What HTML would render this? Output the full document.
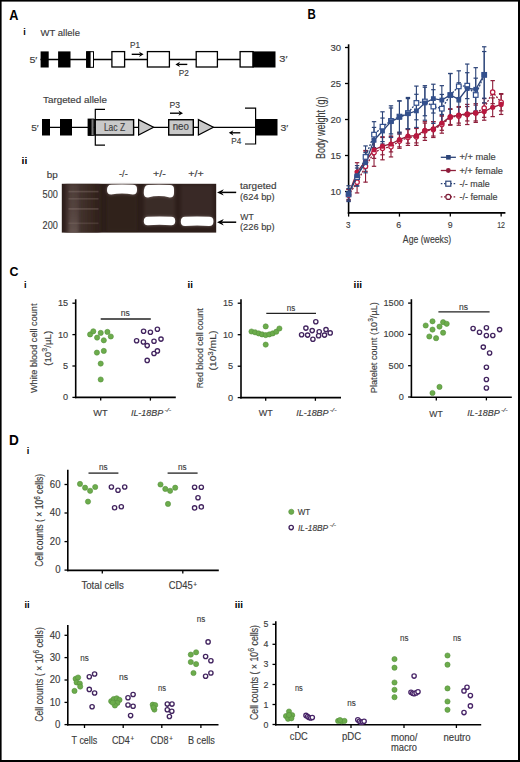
<!DOCTYPE html>
<html><head><meta charset="utf-8"><title>Figure</title>
<style>
html,body{margin:0;padding:0;background:#fff;}
body{width:520px;height:762px;overflow:hidden;}
svg{display:block;font-family:"Liberation Sans", sans-serif;}
text{stroke:#3c3c3c;stroke-width:0.15px;}
text[fill="#000"]{stroke:none;}
</style></head>
<body>
<svg width="520" height="762" viewBox="0 0 520 762" fill="#3c3c3c">
<rect width="520" height="762" fill="#fff"/>
<text x="9.2" y="19.5" font-size="14" font-weight="bold" textLength="9.2" lengthAdjust="spacingAndGlyphs" fill="#000">A</text>
<text x="23.2" y="35.2" font-size="9" font-weight="bold" fill="#000">i</text>
<text x="40.6" y="35.5" font-size="9.5" textLength="39.4" lengthAdjust="spacingAndGlyphs">WT allele</text>
<line x1="40.5" y1="59.5" x2="252" y2="59.5" stroke="#000" stroke-width="1.35"/>
<rect x="40.6" y="51.4" width="8.1" height="16.1" fill="#000"/>
<rect x="58.1" y="51.4" width="12.4" height="16.1" fill="#000"/>
<rect x="86.6" y="51.7" width="6.9" height="15.6" fill="#fff" stroke="#000" stroke-width="1"/>
<rect x="86.3" y="51.4" width="4.3" height="16.1" fill="#000"/>
<rect x="111.9" y="51.6" width="12.7" height="15.4" fill="#fff" stroke="#000" stroke-width="1.3"/>
<rect x="147.4" y="51.6" width="22" height="15.4" fill="#fff" stroke="#000" stroke-width="1.3"/>
<rect x="196.2" y="51.6" width="21.2" height="15.4" fill="#fff" stroke="#000" stroke-width="1.3"/>
<rect x="240.1" y="51.6" width="13" height="15.4" fill="#fff" stroke="#000" stroke-width="1.3"/>
<rect x="252.5" y="51.4" width="23" height="16.1" fill="#000"/>
<text x="29.4" y="62.5" font-size="9.6" textLength="8" lengthAdjust="spacingAndGlyphs">5&#8242;</text>
<text x="279.3" y="62.4" font-size="9.6" textLength="8.2" lengthAdjust="spacingAndGlyphs">3&#8242;</text>
<text x="130" y="48.1" font-size="8.5" textLength="10" lengthAdjust="spacingAndGlyphs">P1</text>
<text x="178.8" y="75.6" font-size="8.5" textLength="10" lengthAdjust="spacingAndGlyphs">P2</text>
<line x1="131.7" y1="54.3" x2="140.4" y2="54.3" stroke="#000" stroke-width="1.35"/>
<path d="M143.6 54.3 L139 51.7 L140.4 54.3 L139 56.9 Z" fill="#000"/>
<line x1="178.6" y1="64.4" x2="187.3" y2="64.4" stroke="#000" stroke-width="1.35"/>
<path d="M175.4 64.4 L180 61.8 L178.6 64.4 L180 67 Z" fill="#000"/>
<text x="43" y="102.6" font-size="9.2" textLength="64" lengthAdjust="spacingAndGlyphs">Targeted allele</text>
<line x1="42" y1="127.3" x2="256" y2="127.3" stroke="#000" stroke-width="1.35"/>
<rect x="42" y="119" width="8" height="16.5" fill="#000"/>
<rect x="60" y="119" width="12" height="16.5" fill="#000"/>
<rect x="88" y="119" width="5.9" height="16.5" fill="#777" stroke="#000" stroke-width="0.8"/>
<rect x="88" y="119" width="3.5" height="16.5" fill="#000"/>
<rect x="94.8" y="119.7" width="38.8" height="15.3" fill="#c9c9c9" stroke="#000" stroke-width="1.4"/>
<text x="103.9" y="130.6" font-size="10.2" textLength="21.2" lengthAdjust="spacingAndGlyphs">Lac Z</text>
<path d="M138.6 119.6 L153.6 127.3 L138.6 135 Z" fill="#c9c9c9" stroke="#000" stroke-width="1.2"/>
<rect x="168.7" y="119.7" width="24.6" height="15.3" fill="#c9c9c9" stroke="#000" stroke-width="1.4"/>
<text x="172.7" y="130.3" font-size="10" textLength="16.2" lengthAdjust="spacingAndGlyphs">neo</text>
<path d="M198.4 119.6 L213.4 127.3 L198.4 135 Z" fill="#c9c9c9" stroke="#000" stroke-width="1.2"/>
<rect x="255.5" y="119" width="22" height="16.5" fill="#000"/>
<path d="M105 109.3 H95.3 V145.2 H105" fill="none" stroke="#000" stroke-width="1.2"/>
<path d="M245 108.1 H255.6 V144 H245" fill="none" stroke="#000" stroke-width="1.2"/>
<text x="169.5" y="107.5" font-size="9" textLength="10.5" lengthAdjust="spacingAndGlyphs">P3</text>
<line x1="170" y1="113.2" x2="179.8" y2="113.2" stroke="#000" stroke-width="1.35"/>
<path d="M183 113.2 L178.4 110.6 L179.8 113.2 L178.4 115.8 Z" fill="#000"/>
<text x="231.3" y="143.8" font-size="8.5" textLength="10" lengthAdjust="spacingAndGlyphs">P4</text>
<line x1="232" y1="132.8" x2="240.3" y2="132.8" stroke="#000" stroke-width="1.35"/>
<path d="M228.8 132.8 L233.4 130.2 L232 132.8 L233.4 135.4 Z" fill="#000"/>
<text x="280.5" y="131.1" font-size="9.6" textLength="7.8" lengthAdjust="spacingAndGlyphs">3&#8242;</text>
<text x="31.2" y="131.2" font-size="9.6" textLength="7.6" lengthAdjust="spacingAndGlyphs">5&#8242;</text>
<text x="21.5" y="163.6" font-size="9" font-weight="bold" textLength="5.8" lengthAdjust="spacingAndGlyphs" fill="#000">ii</text>
<text x="46.7" y="177.9" font-size="9.6" textLength="11" lengthAdjust="spacingAndGlyphs">bp</text>
<text x="42.6" y="197.8" font-size="10" textLength="15.2" lengthAdjust="spacingAndGlyphs">500</text>
<text x="42.6" y="228.9" font-size="10" textLength="15.2" lengthAdjust="spacingAndGlyphs">200</text>
<text x="119" y="177" font-size="9" textLength="8.7" lengthAdjust="spacingAndGlyphs">-/-</text>
<text x="153" y="177" font-size="9" textLength="12.8" lengthAdjust="spacingAndGlyphs">+/-</text>
<text x="188.3" y="177" font-size="9" textLength="15.5" lengthAdjust="spacingAndGlyphs">+/+</text>
<defs>
<linearGradient id="ladder" x1="0" x2="1" y1="0" y2="0">
<stop offset="0" stop-color="#3a2a26"/><stop offset="0.2" stop-color="#4c3b36"/><stop offset="0.45" stop-color="#42322d"/><stop offset="0.8" stop-color="#36261f"/><stop offset="1" stop-color="#2e1f1a"/>
</linearGradient>
<linearGradient id="streak" x1="0" x2="0" y1="0" y2="1">
<stop offset="0" stop-color="#6a5853" stop-opacity="0.1"/><stop offset="0.5" stop-color="#6a5853" stop-opacity="0.3"/><stop offset="1" stop-color="#7a6863" stop-opacity="0.55"/>
</linearGradient>
<filter id="soft" x="-10%" y="-100%" width="120%" height="300%"><feGaussianBlur stdDeviation="0.5"/></filter>
<filter id="soft2" x="-20%" y="-20%" width="140%" height="140%"><feGaussianBlur stdDeviation="1.5"/></filter>
<clipPath id="gelclip"><rect x="61.8" y="183.8" width="154.4" height="48.8"/></clipPath>
<filter id="glow" x="-20%" y="-40%" width="140%" height="180%"><feGaussianBlur stdDeviation="0.45"/></filter>
<filter id="glow2" x="-30%" y="-60%" width="160%" height="220%"><feGaussianBlur stdDeviation="1.6"/></filter>
</defs>
<rect x="61.8" y="183.8" width="154.4" height="48.8" fill="#2d1e1a"/>
<g clip-path="url(#gelclip)"><rect x="65" y="183" width="35" height="51" fill="url(#ladder)" filter="url(#soft2)"/>
<rect x="68.5" y="184" width="10" height="50" fill="url(#streak)" filter="url(#soft2)"/></g>
<rect x="68.5" y="190.8" width="30" height="1.6" fill="#9a8680" opacity="0.32" filter="url(#soft)"/>
<rect x="68.5" y="198" width="30" height="1.6" fill="#9a8680" opacity="0.28" filter="url(#soft)"/>
<rect x="68.5" y="208.1" width="30" height="1.6" fill="#9a8680" opacity="0.34" filter="url(#soft)"/>
<rect x="68.5" y="222.5" width="30" height="1.6" fill="#9a8680" opacity="0.22" filter="url(#soft)"/>
<g clip-path="url(#gelclip)" filter="url(#soft2)"><rect x="144" y="196" width="31" height="22" fill="#6a5a57" opacity="0.22"/><rect x="181" y="185" width="32" height="31" fill="#6a5a57" opacity="0.18"/><rect x="107" y="195" width="30" height="36" fill="#3a2a26" opacity="0.3"/></g>
<path d="M111.2 184.7 Q122 184.1 132.8 184.7 Q137 184.7 137 188.9 L137 190.2 Q137 194.4 132.8 194.4 Q122 192.6 111.2 194.4 Q107 194.4 107 190.2 Q107 184.7 111.2 184.7 Z" fill="#a09290" opacity="0.7" filter="url(#glow2)"/>
<path d="M111.2 184.7 Q122 184.1 132.8 184.7 Q137 184.7 137 188.9 L137 190.2 Q137 194.4 132.8 194.4 Q122 192.6 111.2 194.4 Q107 194.4 107 190.2 Q107 184.7 111.2 184.7 Z" fill="#ffffff" filter="url(#glow)"/>
<path d="M148 185 Q158.9 184.4 169.8 185 Q174 185 174 189.2 L174 193.2 Q174 197.4 169.8 197.4 Q158.9 194.6 148 197.4 Q143.8 197.4 143.8 193.2 Q143.8 185 148 185 Z" fill="#a09290" opacity="0.7" filter="url(#glow2)"/>
<path d="M148 185 Q158.9 184.4 169.8 185 Q174 185 174 189.2 L174 193.2 Q174 197.4 169.8 197.4 Q158.9 194.6 148 197.4 Q143.8 197.4 143.8 193.2 Q143.8 185 148 185 Z" fill="#ffffff" filter="url(#glow)"/>
<path d="M147.7 216.8 Q159.5 216.2 171.3 216.8 Q175.2 216.8 175.2 220.7 L175.2 221.3 Q175.2 225.2 171.3 225.2 Q159.5 224.2 147.7 225.2 Q143.8 225.2 143.8 221.3 Q143.8 216.8 147.7 216.8 Z" fill="#a09290" opacity="0.7" filter="url(#glow2)"/>
<path d="M147.7 216.8 Q159.5 216.2 171.3 216.8 Q175.2 216.8 175.2 220.7 L175.2 221.3 Q175.2 225.2 171.3 225.2 Q159.5 224.2 147.7 225.2 Q143.8 225.2 143.8 221.3 Q143.8 216.8 147.7 216.8 Z" fill="#ffffff" filter="url(#glow)"/>
<path d="M185 216.8 Q197.1 216.2 209.2 216.8 Q213.4 216.8 213.4 221 L213.4 221.8 Q213.4 226 209.2 226 Q197.1 225 185 226 Q180.8 226 180.8 221.8 Q180.8 216.8 185 216.8 Z" fill="#a09290" opacity="0.7" filter="url(#glow2)"/>
<path d="M185 216.8 Q197.1 216.2 209.2 216.8 Q213.4 216.8 213.4 221 L213.4 221.8 Q213.4 226 209.2 226 Q197.1 225 185 226 Q180.8 226 180.8 221.8 Q180.8 216.8 185 216.8 Z" fill="#ffffff" filter="url(#glow)"/>
<line x1="221.6" y1="192.4" x2="236.2" y2="192.4" stroke="#000" stroke-width="1.5"/>
<path d="M217 192.4 L223.8 189.2 L221.6 192.4 L223.8 195.6 Z" fill="#000"/>
<line x1="221.6" y1="222.2" x2="236.2" y2="222.2" stroke="#000" stroke-width="1.5"/>
<path d="M217 222.2 L223.8 219 L221.6 222.2 L223.8 225.4 Z" fill="#000"/>
<text x="240" y="188.8" font-size="9.3" textLength="36.5" lengthAdjust="spacingAndGlyphs">targeted</text>
<text x="240" y="200.3" font-size="9.3" textLength="34.6" lengthAdjust="spacingAndGlyphs">(624 bp)</text>
<text x="240.3" y="220" font-size="9.5" textLength="13.4" lengthAdjust="spacingAndGlyphs">WT</text>
<text x="240" y="230.3" font-size="9.3" textLength="34.6" lengthAdjust="spacingAndGlyphs">(226 bp)</text>
<text x="307.6" y="19.4" font-size="14" font-weight="bold" textLength="8.3" lengthAdjust="spacingAndGlyphs" fill="#000">B</text>
<line x1="348.6" y1="44.3" x2="348.6" y2="213.8" stroke="#000" stroke-width="1.6"/>
<line x1="347.8" y1="212.9" x2="505.4" y2="212.9" stroke="#000" stroke-width="1.6"/>
<line x1="345" y1="191.5" x2="348.6" y2="191.5" stroke="#000" stroke-width="1.3"/>
<text x="341" y="194.6" font-size="9.7" text-anchor="end" textLength="10.6" lengthAdjust="spacingAndGlyphs">10</text>
<line x1="345" y1="155.5" x2="348.6" y2="155.5" stroke="#000" stroke-width="1.3"/>
<text x="341" y="158.6" font-size="9.7" text-anchor="end" textLength="10.6" lengthAdjust="spacingAndGlyphs">15</text>
<line x1="345" y1="119.5" x2="348.6" y2="119.5" stroke="#000" stroke-width="1.3"/>
<text x="341" y="122.6" font-size="9.7" text-anchor="end" textLength="10.6" lengthAdjust="spacingAndGlyphs">20</text>
<line x1="345" y1="83.5" x2="348.6" y2="83.5" stroke="#000" stroke-width="1.3"/>
<text x="341" y="86.6" font-size="9.7" text-anchor="end" textLength="10.6" lengthAdjust="spacingAndGlyphs">25</text>
<line x1="345" y1="47.5" x2="348.6" y2="47.5" stroke="#000" stroke-width="1.3"/>
<text x="341" y="50.6" font-size="9.7" text-anchor="end" textLength="10.6" lengthAdjust="spacingAndGlyphs">30</text>
<line x1="348.6" y1="213" x2="348.6" y2="216.6" stroke="#000" stroke-width="1.3"/>
<line x1="399.45" y1="213" x2="399.45" y2="216.6" stroke="#000" stroke-width="1.3"/>
<line x1="450.3" y1="213" x2="450.3" y2="216.6" stroke="#000" stroke-width="1.3"/>
<line x1="501.15" y1="213" x2="501.15" y2="216.6" stroke="#000" stroke-width="1.3"/>
<text x="348.25" y="227.7" font-size="9.3" text-anchor="middle" textLength="4.47" lengthAdjust="spacingAndGlyphs">3</text>
<text x="398.8" y="227.7" font-size="9.3" text-anchor="middle" textLength="4.94" lengthAdjust="spacingAndGlyphs">6</text>
<text x="450.25" y="227.7" font-size="9.3" text-anchor="middle" textLength="4.85" lengthAdjust="spacingAndGlyphs">9</text>
<text x="501.1" y="227.7" font-size="9.3" text-anchor="middle" textLength="7.79" lengthAdjust="spacingAndGlyphs">12</text>
<text x="324.8" y="127.8" font-size="12.2" text-anchor="middle" transform="rotate(-90 324.8 127.8)" textLength="62.4" lengthAdjust="spacingAndGlyphs">Body weight (g)</text>
<text x="427" y="243.4" font-size="10.6" text-anchor="middle" textLength="48.3" lengthAdjust="spacingAndGlyphs">Age (weeks)</text>
<line x1="348.6" y1="189.34" x2="348.6" y2="200.86" stroke="#8e1f3b" stroke-width="1.1"/>
<line x1="346.4" y1="189.34" x2="350.8" y2="189.34" stroke="#8e1f3b" stroke-width="1.2"/>
<line x1="346.4" y1="200.86" x2="350.8" y2="200.86" stroke="#8e1f3b" stroke-width="1.2"/>
<line x1="357.08" y1="171.34" x2="357.08" y2="192.94" stroke="#8e1f3b" stroke-width="1.1"/>
<line x1="354.88" y1="171.34" x2="359.28" y2="171.34" stroke="#8e1f3b" stroke-width="1.2"/>
<line x1="354.88" y1="192.94" x2="359.28" y2="192.94" stroke="#8e1f3b" stroke-width="1.2"/>
<line x1="365.55" y1="150.46" x2="365.55" y2="182.14" stroke="#8e1f3b" stroke-width="1.1"/>
<line x1="363.35" y1="150.46" x2="367.75" y2="150.46" stroke="#8e1f3b" stroke-width="1.2"/>
<line x1="363.35" y1="182.14" x2="367.75" y2="182.14" stroke="#8e1f3b" stroke-width="1.2"/>
<line x1="374.03" y1="138.94" x2="374.03" y2="166.3" stroke="#8e1f3b" stroke-width="1.1"/>
<line x1="371.83" y1="138.94" x2="376.23" y2="138.94" stroke="#8e1f3b" stroke-width="1.2"/>
<line x1="371.83" y1="166.3" x2="376.23" y2="166.3" stroke="#8e1f3b" stroke-width="1.2"/>
<line x1="382.5" y1="136.78" x2="382.5" y2="159.82" stroke="#8e1f3b" stroke-width="1.1"/>
<line x1="380.3" y1="136.78" x2="384.7" y2="136.78" stroke="#8e1f3b" stroke-width="1.2"/>
<line x1="380.3" y1="159.82" x2="384.7" y2="159.82" stroke="#8e1f3b" stroke-width="1.2"/>
<line x1="390.98" y1="136.78" x2="390.98" y2="156.94" stroke="#8e1f3b" stroke-width="1.1"/>
<line x1="388.78" y1="136.78" x2="393.18" y2="136.78" stroke="#8e1f3b" stroke-width="1.2"/>
<line x1="388.78" y1="156.94" x2="393.18" y2="156.94" stroke="#8e1f3b" stroke-width="1.2"/>
<line x1="399.45" y1="133.9" x2="399.45" y2="148.3" stroke="#8e1f3b" stroke-width="1.1"/>
<line x1="397.25" y1="133.9" x2="401.65" y2="133.9" stroke="#8e1f3b" stroke-width="1.2"/>
<line x1="397.25" y1="148.3" x2="401.65" y2="148.3" stroke="#8e1f3b" stroke-width="1.2"/>
<line x1="407.93" y1="129.58" x2="407.93" y2="145.42" stroke="#8e1f3b" stroke-width="1.1"/>
<line x1="405.73" y1="129.58" x2="410.12" y2="129.58" stroke="#8e1f3b" stroke-width="1.2"/>
<line x1="405.73" y1="145.42" x2="410.12" y2="145.42" stroke="#8e1f3b" stroke-width="1.2"/>
<line x1="416.4" y1="128.14" x2="416.4" y2="145.42" stroke="#8e1f3b" stroke-width="1.1"/>
<line x1="414.2" y1="128.14" x2="418.6" y2="128.14" stroke="#8e1f3b" stroke-width="1.2"/>
<line x1="414.2" y1="145.42" x2="418.6" y2="145.42" stroke="#8e1f3b" stroke-width="1.2"/>
<line x1="424.88" y1="121.66" x2="424.88" y2="140.38" stroke="#8e1f3b" stroke-width="1.1"/>
<line x1="422.68" y1="121.66" x2="427.07" y2="121.66" stroke="#8e1f3b" stroke-width="1.2"/>
<line x1="422.68" y1="140.38" x2="427.07" y2="140.38" stroke="#8e1f3b" stroke-width="1.2"/>
<line x1="433.35" y1="121.66" x2="433.35" y2="137.5" stroke="#8e1f3b" stroke-width="1.1"/>
<line x1="431.15" y1="121.66" x2="435.55" y2="121.66" stroke="#8e1f3b" stroke-width="1.2"/>
<line x1="431.15" y1="137.5" x2="435.55" y2="137.5" stroke="#8e1f3b" stroke-width="1.2"/>
<line x1="441.83" y1="115.9" x2="441.83" y2="133.18" stroke="#8e1f3b" stroke-width="1.1"/>
<line x1="439.63" y1="115.9" x2="444.03" y2="115.9" stroke="#8e1f3b" stroke-width="1.2"/>
<line x1="439.63" y1="133.18" x2="444.03" y2="133.18" stroke="#8e1f3b" stroke-width="1.2"/>
<line x1="450.3" y1="109.42" x2="450.3" y2="125.26" stroke="#8e1f3b" stroke-width="1.1"/>
<line x1="448.1" y1="109.42" x2="452.5" y2="109.42" stroke="#8e1f3b" stroke-width="1.2"/>
<line x1="448.1" y1="125.26" x2="452.5" y2="125.26" stroke="#8e1f3b" stroke-width="1.2"/>
<line x1="458.78" y1="106.54" x2="458.78" y2="125.26" stroke="#8e1f3b" stroke-width="1.1"/>
<line x1="456.58" y1="106.54" x2="460.98" y2="106.54" stroke="#8e1f3b" stroke-width="1.2"/>
<line x1="456.58" y1="125.26" x2="460.98" y2="125.26" stroke="#8e1f3b" stroke-width="1.2"/>
<line x1="467.25" y1="104.38" x2="467.25" y2="124.54" stroke="#8e1f3b" stroke-width="1.1"/>
<line x1="465.05" y1="104.38" x2="469.45" y2="104.38" stroke="#8e1f3b" stroke-width="1.2"/>
<line x1="465.05" y1="124.54" x2="469.45" y2="124.54" stroke="#8e1f3b" stroke-width="1.2"/>
<line x1="475.73" y1="103.66" x2="475.73" y2="122.38" stroke="#8e1f3b" stroke-width="1.1"/>
<line x1="473.53" y1="103.66" x2="477.93" y2="103.66" stroke="#8e1f3b" stroke-width="1.2"/>
<line x1="473.53" y1="122.38" x2="477.93" y2="122.38" stroke="#8e1f3b" stroke-width="1.2"/>
<line x1="484.2" y1="98.62" x2="484.2" y2="117.34" stroke="#8e1f3b" stroke-width="1.1"/>
<line x1="482" y1="98.62" x2="486.4" y2="98.62" stroke="#8e1f3b" stroke-width="1.2"/>
<line x1="482" y1="117.34" x2="486.4" y2="117.34" stroke="#8e1f3b" stroke-width="1.2"/>
<line x1="492.68" y1="80.62" x2="492.68" y2="103.66" stroke="#8e1f3b" stroke-width="1.1"/>
<line x1="490.48" y1="80.62" x2="494.88" y2="80.62" stroke="#8e1f3b" stroke-width="1.2"/>
<line x1="490.48" y1="103.66" x2="494.88" y2="103.66" stroke="#8e1f3b" stroke-width="1.2"/>
<line x1="501.15" y1="93.58" x2="501.15" y2="110.86" stroke="#8e1f3b" stroke-width="1.1"/>
<line x1="498.95" y1="93.58" x2="503.35" y2="93.58" stroke="#8e1f3b" stroke-width="1.2"/>
<line x1="498.95" y1="110.86" x2="503.35" y2="110.86" stroke="#8e1f3b" stroke-width="1.2"/>
<line x1="348.6" y1="189.34" x2="348.6" y2="199.42" stroke="#8e1f3b" stroke-width="1.1"/>
<line x1="346.4" y1="189.34" x2="350.8" y2="189.34" stroke="#8e1f3b" stroke-width="1.2"/>
<line x1="346.4" y1="199.42" x2="350.8" y2="199.42" stroke="#8e1f3b" stroke-width="1.2"/>
<line x1="357.08" y1="162.7" x2="357.08" y2="181.42" stroke="#8e1f3b" stroke-width="1.1"/>
<line x1="354.88" y1="162.7" x2="359.28" y2="162.7" stroke="#8e1f3b" stroke-width="1.2"/>
<line x1="354.88" y1="181.42" x2="359.28" y2="181.42" stroke="#8e1f3b" stroke-width="1.2"/>
<line x1="365.55" y1="151.18" x2="365.55" y2="171.34" stroke="#8e1f3b" stroke-width="1.1"/>
<line x1="363.35" y1="151.18" x2="367.75" y2="151.18" stroke="#8e1f3b" stroke-width="1.2"/>
<line x1="363.35" y1="171.34" x2="367.75" y2="171.34" stroke="#8e1f3b" stroke-width="1.2"/>
<line x1="374.03" y1="141.1" x2="374.03" y2="158.38" stroke="#8e1f3b" stroke-width="1.1"/>
<line x1="371.83" y1="141.1" x2="376.23" y2="141.1" stroke="#8e1f3b" stroke-width="1.2"/>
<line x1="371.83" y1="158.38" x2="376.23" y2="158.38" stroke="#8e1f3b" stroke-width="1.2"/>
<line x1="382.5" y1="137.5" x2="382.5" y2="154.78" stroke="#8e1f3b" stroke-width="1.1"/>
<line x1="380.3" y1="137.5" x2="384.7" y2="137.5" stroke="#8e1f3b" stroke-width="1.2"/>
<line x1="380.3" y1="154.78" x2="384.7" y2="154.78" stroke="#8e1f3b" stroke-width="1.2"/>
<line x1="390.98" y1="136.06" x2="390.98" y2="151.9" stroke="#8e1f3b" stroke-width="1.1"/>
<line x1="388.78" y1="136.06" x2="393.18" y2="136.06" stroke="#8e1f3b" stroke-width="1.2"/>
<line x1="388.78" y1="151.9" x2="393.18" y2="151.9" stroke="#8e1f3b" stroke-width="1.2"/>
<line x1="399.45" y1="132.46" x2="399.45" y2="146.86" stroke="#8e1f3b" stroke-width="1.1"/>
<line x1="397.25" y1="132.46" x2="401.65" y2="132.46" stroke="#8e1f3b" stroke-width="1.2"/>
<line x1="397.25" y1="146.86" x2="401.65" y2="146.86" stroke="#8e1f3b" stroke-width="1.2"/>
<line x1="407.93" y1="128.86" x2="407.93" y2="143.26" stroke="#8e1f3b" stroke-width="1.1"/>
<line x1="405.73" y1="128.86" x2="410.12" y2="128.86" stroke="#8e1f3b" stroke-width="1.2"/>
<line x1="405.73" y1="143.26" x2="410.12" y2="143.26" stroke="#8e1f3b" stroke-width="1.2"/>
<line x1="416.4" y1="128.5" x2="416.4" y2="142.9" stroke="#8e1f3b" stroke-width="1.1"/>
<line x1="414.2" y1="128.5" x2="418.6" y2="128.5" stroke="#8e1f3b" stroke-width="1.2"/>
<line x1="414.2" y1="142.9" x2="418.6" y2="142.9" stroke="#8e1f3b" stroke-width="1.2"/>
<line x1="424.88" y1="123.1" x2="424.88" y2="137.5" stroke="#8e1f3b" stroke-width="1.1"/>
<line x1="422.68" y1="123.1" x2="427.07" y2="123.1" stroke="#8e1f3b" stroke-width="1.2"/>
<line x1="422.68" y1="137.5" x2="427.07" y2="137.5" stroke="#8e1f3b" stroke-width="1.2"/>
<line x1="433.35" y1="121.66" x2="433.35" y2="136.06" stroke="#8e1f3b" stroke-width="1.1"/>
<line x1="431.15" y1="121.66" x2="435.55" y2="121.66" stroke="#8e1f3b" stroke-width="1.2"/>
<line x1="431.15" y1="136.06" x2="435.55" y2="136.06" stroke="#8e1f3b" stroke-width="1.2"/>
<line x1="441.83" y1="115.9" x2="441.83" y2="130.3" stroke="#8e1f3b" stroke-width="1.1"/>
<line x1="439.63" y1="115.9" x2="444.03" y2="115.9" stroke="#8e1f3b" stroke-width="1.2"/>
<line x1="439.63" y1="130.3" x2="444.03" y2="130.3" stroke="#8e1f3b" stroke-width="1.2"/>
<line x1="450.3" y1="108.7" x2="450.3" y2="124.54" stroke="#8e1f3b" stroke-width="1.1"/>
<line x1="448.1" y1="108.7" x2="452.5" y2="108.7" stroke="#8e1f3b" stroke-width="1.2"/>
<line x1="448.1" y1="124.54" x2="452.5" y2="124.54" stroke="#8e1f3b" stroke-width="1.2"/>
<line x1="458.78" y1="107.26" x2="458.78" y2="123.1" stroke="#8e1f3b" stroke-width="1.1"/>
<line x1="456.58" y1="107.26" x2="460.98" y2="107.26" stroke="#8e1f3b" stroke-width="1.2"/>
<line x1="456.58" y1="123.1" x2="460.98" y2="123.1" stroke="#8e1f3b" stroke-width="1.2"/>
<line x1="467.25" y1="106.54" x2="467.25" y2="120.94" stroke="#8e1f3b" stroke-width="1.1"/>
<line x1="465.05" y1="106.54" x2="469.45" y2="106.54" stroke="#8e1f3b" stroke-width="1.2"/>
<line x1="465.05" y1="120.94" x2="469.45" y2="120.94" stroke="#8e1f3b" stroke-width="1.2"/>
<line x1="475.73" y1="105.1" x2="475.73" y2="120.94" stroke="#8e1f3b" stroke-width="1.1"/>
<line x1="473.53" y1="105.1" x2="477.93" y2="105.1" stroke="#8e1f3b" stroke-width="1.2"/>
<line x1="473.53" y1="120.94" x2="477.93" y2="120.94" stroke="#8e1f3b" stroke-width="1.2"/>
<line x1="484.2" y1="102.94" x2="484.2" y2="120.22" stroke="#8e1f3b" stroke-width="1.1"/>
<line x1="482" y1="102.94" x2="486.4" y2="102.94" stroke="#8e1f3b" stroke-width="1.2"/>
<line x1="482" y1="120.22" x2="486.4" y2="120.22" stroke="#8e1f3b" stroke-width="1.2"/>
<line x1="492.68" y1="97.9" x2="492.68" y2="116.62" stroke="#8e1f3b" stroke-width="1.1"/>
<line x1="490.48" y1="97.9" x2="494.88" y2="97.9" stroke="#8e1f3b" stroke-width="1.2"/>
<line x1="490.48" y1="116.62" x2="494.88" y2="116.62" stroke="#8e1f3b" stroke-width="1.2"/>
<line x1="501.15" y1="94.3" x2="501.15" y2="114.46" stroke="#8e1f3b" stroke-width="1.1"/>
<line x1="498.95" y1="94.3" x2="503.35" y2="94.3" stroke="#8e1f3b" stroke-width="1.2"/>
<line x1="498.95" y1="114.46" x2="503.35" y2="114.46" stroke="#8e1f3b" stroke-width="1.2"/>
<line x1="348.6" y1="188.55" x2="348.6" y2="200.21" stroke="#2c4478" stroke-width="1.1"/>
<line x1="346.4" y1="188.55" x2="350.8" y2="188.55" stroke="#2c4478" stroke-width="1.2"/>
<line x1="346.4" y1="200.21" x2="350.8" y2="200.21" stroke="#2c4478" stroke-width="1.2"/>
<line x1="357.08" y1="168.03" x2="357.08" y2="186.17" stroke="#2c4478" stroke-width="1.1"/>
<line x1="354.88" y1="168.03" x2="359.28" y2="168.03" stroke="#2c4478" stroke-width="1.2"/>
<line x1="354.88" y1="186.17" x2="359.28" y2="186.17" stroke="#2c4478" stroke-width="1.2"/>
<line x1="365.55" y1="145.92" x2="365.55" y2="167.96" stroke="#2c4478" stroke-width="1.1"/>
<line x1="363.35" y1="145.92" x2="367.75" y2="145.92" stroke="#2c4478" stroke-width="1.2"/>
<line x1="363.35" y1="167.96" x2="367.75" y2="167.96" stroke="#2c4478" stroke-width="1.2"/>
<line x1="374.03" y1="121.66" x2="374.03" y2="147.58" stroke="#2c4478" stroke-width="1.1"/>
<line x1="371.83" y1="121.66" x2="376.23" y2="121.66" stroke="#2c4478" stroke-width="1.2"/>
<line x1="371.83" y1="147.58" x2="376.23" y2="147.58" stroke="#2c4478" stroke-width="1.2"/>
<line x1="382.5" y1="111.8" x2="382.5" y2="141.6" stroke="#2c4478" stroke-width="1.1"/>
<line x1="380.3" y1="111.8" x2="384.7" y2="111.8" stroke="#2c4478" stroke-width="1.2"/>
<line x1="380.3" y1="141.6" x2="384.7" y2="141.6" stroke="#2c4478" stroke-width="1.2"/>
<line x1="390.98" y1="107.98" x2="390.98" y2="133.9" stroke="#2c4478" stroke-width="1.1"/>
<line x1="388.78" y1="107.98" x2="393.18" y2="107.98" stroke="#2c4478" stroke-width="1.2"/>
<line x1="388.78" y1="133.9" x2="393.18" y2="133.9" stroke="#2c4478" stroke-width="1.2"/>
<line x1="399.45" y1="101.07" x2="399.45" y2="132.17" stroke="#2c4478" stroke-width="1.1"/>
<line x1="397.25" y1="101.07" x2="401.65" y2="101.07" stroke="#2c4478" stroke-width="1.2"/>
<line x1="397.25" y1="132.17" x2="401.65" y2="132.17" stroke="#2c4478" stroke-width="1.2"/>
<line x1="407.93" y1="97.47" x2="407.93" y2="128.57" stroke="#2c4478" stroke-width="1.1"/>
<line x1="405.73" y1="97.47" x2="410.12" y2="97.47" stroke="#2c4478" stroke-width="1.2"/>
<line x1="405.73" y1="128.57" x2="410.12" y2="128.57" stroke="#2c4478" stroke-width="1.2"/>
<line x1="416.4" y1="86.09" x2="416.4" y2="119.79" stroke="#2c4478" stroke-width="1.1"/>
<line x1="414.2" y1="86.09" x2="418.6" y2="86.09" stroke="#2c4478" stroke-width="1.2"/>
<line x1="414.2" y1="119.79" x2="418.6" y2="119.79" stroke="#2c4478" stroke-width="1.2"/>
<line x1="424.88" y1="87.24" x2="424.88" y2="115.76" stroke="#2c4478" stroke-width="1.1"/>
<line x1="422.68" y1="87.24" x2="427.07" y2="87.24" stroke="#2c4478" stroke-width="1.2"/>
<line x1="422.68" y1="115.76" x2="427.07" y2="115.76" stroke="#2c4478" stroke-width="1.2"/>
<line x1="433.35" y1="89.69" x2="433.35" y2="123.39" stroke="#2c4478" stroke-width="1.1"/>
<line x1="431.15" y1="89.69" x2="435.55" y2="89.69" stroke="#2c4478" stroke-width="1.2"/>
<line x1="431.15" y1="123.39" x2="435.55" y2="123.39" stroke="#2c4478" stroke-width="1.2"/>
<line x1="441.83" y1="94.44" x2="441.83" y2="122.96" stroke="#2c4478" stroke-width="1.1"/>
<line x1="439.63" y1="94.44" x2="444.03" y2="94.44" stroke="#2c4478" stroke-width="1.2"/>
<line x1="439.63" y1="122.96" x2="444.03" y2="122.96" stroke="#2c4478" stroke-width="1.2"/>
<line x1="450.3" y1="73.64" x2="450.3" y2="116.4" stroke="#2c4478" stroke-width="1.1"/>
<line x1="448.1" y1="73.64" x2="452.5" y2="73.64" stroke="#2c4478" stroke-width="1.2"/>
<line x1="448.1" y1="116.4" x2="452.5" y2="116.4" stroke="#2c4478" stroke-width="1.2"/>
<line x1="458.78" y1="70.83" x2="458.78" y2="101.93" stroke="#2c4478" stroke-width="1.1"/>
<line x1="456.58" y1="70.83" x2="460.98" y2="70.83" stroke="#2c4478" stroke-width="1.2"/>
<line x1="456.58" y1="101.93" x2="460.98" y2="101.93" stroke="#2c4478" stroke-width="1.2"/>
<line x1="467.25" y1="72.7" x2="467.25" y2="98.62" stroke="#2c4478" stroke-width="1.1"/>
<line x1="465.05" y1="72.7" x2="469.45" y2="72.7" stroke="#2c4478" stroke-width="1.2"/>
<line x1="465.05" y1="98.62" x2="469.45" y2="98.62" stroke="#2c4478" stroke-width="1.2"/>
<line x1="475.73" y1="78.17" x2="475.73" y2="111.87" stroke="#2c4478" stroke-width="1.1"/>
<line x1="473.53" y1="78.17" x2="477.93" y2="78.17" stroke="#2c4478" stroke-width="1.2"/>
<line x1="473.53" y1="111.87" x2="477.93" y2="111.87" stroke="#2c4478" stroke-width="1.2"/>
<line x1="484.2" y1="51.53" x2="484.2" y2="98.19" stroke="#2c4478" stroke-width="1.1"/>
<line x1="482" y1="51.53" x2="486.4" y2="51.53" stroke="#2c4478" stroke-width="1.2"/>
<line x1="482" y1="98.19" x2="486.4" y2="98.19" stroke="#2c4478" stroke-width="1.2"/>
<line x1="348.6" y1="185.74" x2="348.6" y2="201.58" stroke="#2c4478" stroke-width="1.1"/>
<line x1="346.4" y1="185.74" x2="350.8" y2="185.74" stroke="#2c4478" stroke-width="1.2"/>
<line x1="346.4" y1="201.58" x2="350.8" y2="201.58" stroke="#2c4478" stroke-width="1.2"/>
<line x1="357.08" y1="165.58" x2="357.08" y2="185.74" stroke="#2c4478" stroke-width="1.1"/>
<line x1="354.88" y1="165.58" x2="359.28" y2="165.58" stroke="#2c4478" stroke-width="1.2"/>
<line x1="354.88" y1="185.74" x2="359.28" y2="185.74" stroke="#2c4478" stroke-width="1.2"/>
<line x1="365.55" y1="152.62" x2="365.55" y2="172.78" stroke="#2c4478" stroke-width="1.1"/>
<line x1="363.35" y1="152.62" x2="367.75" y2="152.62" stroke="#2c4478" stroke-width="1.2"/>
<line x1="363.35" y1="172.78" x2="367.75" y2="172.78" stroke="#2c4478" stroke-width="1.2"/>
<line x1="374.03" y1="127.42" x2="374.03" y2="153.34" stroke="#2c4478" stroke-width="1.1"/>
<line x1="371.83" y1="127.42" x2="376.23" y2="127.42" stroke="#2c4478" stroke-width="1.2"/>
<line x1="371.83" y1="153.34" x2="376.23" y2="153.34" stroke="#2c4478" stroke-width="1.2"/>
<line x1="382.5" y1="118.06" x2="382.5" y2="143.98" stroke="#2c4478" stroke-width="1.1"/>
<line x1="380.3" y1="118.06" x2="384.7" y2="118.06" stroke="#2c4478" stroke-width="1.2"/>
<line x1="380.3" y1="143.98" x2="384.7" y2="143.98" stroke="#2c4478" stroke-width="1.2"/>
<line x1="390.98" y1="105.82" x2="390.98" y2="137.5" stroke="#2c4478" stroke-width="1.1"/>
<line x1="388.78" y1="105.82" x2="393.18" y2="105.82" stroke="#2c4478" stroke-width="1.2"/>
<line x1="388.78" y1="137.5" x2="393.18" y2="137.5" stroke="#2c4478" stroke-width="1.2"/>
<line x1="399.45" y1="100.78" x2="399.45" y2="133.9" stroke="#2c4478" stroke-width="1.1"/>
<line x1="397.25" y1="100.78" x2="401.65" y2="100.78" stroke="#2c4478" stroke-width="1.2"/>
<line x1="397.25" y1="133.9" x2="401.65" y2="133.9" stroke="#2c4478" stroke-width="1.2"/>
<line x1="407.93" y1="98.62" x2="407.93" y2="128.86" stroke="#2c4478" stroke-width="1.1"/>
<line x1="405.73" y1="98.62" x2="410.12" y2="98.62" stroke="#2c4478" stroke-width="1.2"/>
<line x1="405.73" y1="128.86" x2="410.12" y2="128.86" stroke="#2c4478" stroke-width="1.2"/>
<line x1="416.4" y1="94.3" x2="416.4" y2="127.42" stroke="#2c4478" stroke-width="1.1"/>
<line x1="414.2" y1="94.3" x2="418.6" y2="94.3" stroke="#2c4478" stroke-width="1.2"/>
<line x1="414.2" y1="127.42" x2="418.6" y2="127.42" stroke="#2c4478" stroke-width="1.2"/>
<line x1="424.88" y1="85.66" x2="424.88" y2="120.22" stroke="#2c4478" stroke-width="1.1"/>
<line x1="422.68" y1="85.66" x2="427.07" y2="85.66" stroke="#2c4478" stroke-width="1.2"/>
<line x1="422.68" y1="120.22" x2="427.07" y2="120.22" stroke="#2c4478" stroke-width="1.2"/>
<line x1="433.35" y1="84.22" x2="433.35" y2="113.02" stroke="#2c4478" stroke-width="1.1"/>
<line x1="431.15" y1="84.22" x2="435.55" y2="84.22" stroke="#2c4478" stroke-width="1.2"/>
<line x1="431.15" y1="113.02" x2="435.55" y2="113.02" stroke="#2c4478" stroke-width="1.2"/>
<line x1="441.83" y1="85.66" x2="441.83" y2="114.46" stroke="#2c4478" stroke-width="1.1"/>
<line x1="439.63" y1="85.66" x2="444.03" y2="85.66" stroke="#2c4478" stroke-width="1.2"/>
<line x1="439.63" y1="114.46" x2="444.03" y2="114.46" stroke="#2c4478" stroke-width="1.2"/>
<line x1="450.3" y1="73.42" x2="450.3" y2="116.62" stroke="#2c4478" stroke-width="1.1"/>
<line x1="448.1" y1="73.42" x2="452.5" y2="73.42" stroke="#2c4478" stroke-width="1.2"/>
<line x1="448.1" y1="116.62" x2="452.5" y2="116.62" stroke="#2c4478" stroke-width="1.2"/>
<line x1="458.78" y1="82.78" x2="458.78" y2="115.9" stroke="#2c4478" stroke-width="1.1"/>
<line x1="456.58" y1="82.78" x2="460.98" y2="82.78" stroke="#2c4478" stroke-width="1.2"/>
<line x1="456.58" y1="115.9" x2="460.98" y2="115.9" stroke="#2c4478" stroke-width="1.2"/>
<line x1="467.25" y1="64.06" x2="467.25" y2="113.02" stroke="#2c4478" stroke-width="1.1"/>
<line x1="465.05" y1="64.06" x2="469.45" y2="64.06" stroke="#2c4478" stroke-width="1.2"/>
<line x1="465.05" y1="113.02" x2="469.45" y2="113.02" stroke="#2c4478" stroke-width="1.2"/>
<line x1="475.73" y1="67.66" x2="475.73" y2="110.86" stroke="#2c4478" stroke-width="1.1"/>
<line x1="473.53" y1="67.66" x2="477.93" y2="67.66" stroke="#2c4478" stroke-width="1.2"/>
<line x1="473.53" y1="110.86" x2="477.93" y2="110.86" stroke="#2c4478" stroke-width="1.2"/>
<line x1="484.2" y1="46.78" x2="484.2" y2="102.94" stroke="#2c4478" stroke-width="1.1"/>
<line x1="482" y1="46.78" x2="486.4" y2="46.78" stroke="#2c4478" stroke-width="1.2"/>
<line x1="482" y1="102.94" x2="486.4" y2="102.94" stroke="#2c4478" stroke-width="1.2"/>
<polyline points="348.6,195.1 357.08,182.14 365.55,166.3 374.03,152.62 382.5,148.3 390.98,146.86 399.45,141.1 407.93,137.5 416.4,136.78 424.88,131.02 433.35,129.58 441.83,124.54 450.3,117.34 458.78,115.9 467.25,114.46 475.73,113.02 484.2,107.98 492.68,92.14 501.15,102.22" fill="none" stroke="#8e1f3b" stroke-width="1.3" stroke-dasharray="2 1.3"/>
<polyline points="348.6,194.38 357.08,172.06 365.55,161.26 374.03,149.74 382.5,146.14 390.98,143.98 399.45,139.66 407.93,136.06 416.4,135.7 424.88,130.3 433.35,128.86 441.83,123.1 450.3,116.62 458.78,115.18 467.25,113.74 475.73,113.02 484.2,111.58 492.68,107.26 501.15,104.38" fill="none" stroke="#8e1f3b" stroke-width="1.3"/>
<circle cx="348.6" cy="195.1" r="2.2" fill="#fff" stroke="#b8183f" stroke-width="1.2"/>
<circle cx="357.08" cy="182.14" r="2.2" fill="#fff" stroke="#b8183f" stroke-width="1.2"/>
<circle cx="365.55" cy="166.3" r="2.2" fill="#fff" stroke="#b8183f" stroke-width="1.2"/>
<circle cx="374.03" cy="152.62" r="2.2" fill="#fff" stroke="#b8183f" stroke-width="1.2"/>
<circle cx="382.5" cy="148.3" r="2.2" fill="#fff" stroke="#b8183f" stroke-width="1.2"/>
<circle cx="390.98" cy="146.86" r="2.2" fill="#fff" stroke="#b8183f" stroke-width="1.2"/>
<circle cx="399.45" cy="141.1" r="2.2" fill="#fff" stroke="#b8183f" stroke-width="1.2"/>
<circle cx="407.93" cy="137.5" r="2.2" fill="#fff" stroke="#b8183f" stroke-width="1.2"/>
<circle cx="416.4" cy="136.78" r="2.2" fill="#fff" stroke="#b8183f" stroke-width="1.2"/>
<circle cx="424.88" cy="131.02" r="2.2" fill="#fff" stroke="#b8183f" stroke-width="1.2"/>
<circle cx="433.35" cy="129.58" r="2.2" fill="#fff" stroke="#b8183f" stroke-width="1.2"/>
<circle cx="441.83" cy="124.54" r="2.2" fill="#fff" stroke="#b8183f" stroke-width="1.2"/>
<circle cx="450.3" cy="117.34" r="2.2" fill="#fff" stroke="#b8183f" stroke-width="1.2"/>
<circle cx="458.78" cy="115.9" r="2.2" fill="#fff" stroke="#b8183f" stroke-width="1.2"/>
<circle cx="467.25" cy="114.46" r="2.2" fill="#fff" stroke="#b8183f" stroke-width="1.2"/>
<circle cx="475.73" cy="113.02" r="2.2" fill="#fff" stroke="#b8183f" stroke-width="1.2"/>
<circle cx="484.2" cy="107.98" r="2.2" fill="#fff" stroke="#b8183f" stroke-width="1.2"/>
<circle cx="492.68" cy="92.14" r="2.2" fill="#fff" stroke="#b8183f" stroke-width="1.2"/>
<circle cx="501.15" cy="102.22" r="2.2" fill="#fff" stroke="#b8183f" stroke-width="1.2"/>
<circle cx="348.6" cy="194.38" r="2.6" fill="#b8183f"/>
<circle cx="357.08" cy="172.06" r="2.6" fill="#b8183f"/>
<circle cx="365.55" cy="161.26" r="2.6" fill="#b8183f"/>
<circle cx="374.03" cy="149.74" r="2.6" fill="#b8183f"/>
<circle cx="382.5" cy="146.14" r="2.6" fill="#b8183f"/>
<circle cx="390.98" cy="143.98" r="2.6" fill="#b8183f"/>
<circle cx="399.45" cy="139.66" r="2.6" fill="#b8183f"/>
<circle cx="407.93" cy="136.06" r="2.6" fill="#b8183f"/>
<circle cx="416.4" cy="135.7" r="2.6" fill="#b8183f"/>
<circle cx="424.88" cy="130.3" r="2.6" fill="#b8183f"/>
<circle cx="433.35" cy="128.86" r="2.6" fill="#b8183f"/>
<circle cx="441.83" cy="123.1" r="2.6" fill="#b8183f"/>
<circle cx="450.3" cy="116.62" r="2.6" fill="#b8183f"/>
<circle cx="458.78" cy="115.18" r="2.6" fill="#b8183f"/>
<circle cx="467.25" cy="113.74" r="2.6" fill="#b8183f"/>
<circle cx="475.73" cy="113.02" r="2.6" fill="#b8183f"/>
<circle cx="484.2" cy="111.58" r="2.6" fill="#b8183f"/>
<circle cx="492.68" cy="107.26" r="2.6" fill="#b8183f"/>
<circle cx="501.15" cy="104.38" r="2.6" fill="#b8183f"/>
<polyline points="348.6,194.38 357.08,177.1 365.55,156.94 374.03,134.62 382.5,126.7 390.98,120.94 399.45,116.62 407.93,113.02 416.4,102.94 424.88,101.5 433.35,106.54 441.83,108.7 450.3,95.02 458.78,86.38 467.25,85.66 475.73,95.02 484.2,74.86" fill="none" stroke="#2c4478" stroke-width="1.3" stroke-dasharray="2 1.3"/>
<polyline points="348.6,193.66 357.08,175.66 365.55,162.7 374.03,140.38 382.5,131.02 390.98,121.66 399.45,117.34 407.93,113.74 416.4,110.86 424.88,102.94 433.35,98.62 441.83,100.06 450.3,95.02 458.78,99.34 467.25,88.54 475.73,89.26 484.2,74.86" fill="none" stroke="#2c4478" stroke-width="1.3"/>
<rect x="346.3" y="192.08" width="4.6" height="4.6" fill="#fff" stroke="#33508d" stroke-width="1.2"/>
<rect x="354.78" y="174.8" width="4.6" height="4.6" fill="#fff" stroke="#33508d" stroke-width="1.2"/>
<rect x="363.25" y="154.64" width="4.6" height="4.6" fill="#fff" stroke="#33508d" stroke-width="1.2"/>
<rect x="371.73" y="132.32" width="4.6" height="4.6" fill="#fff" stroke="#33508d" stroke-width="1.2"/>
<rect x="380.2" y="124.4" width="4.6" height="4.6" fill="#fff" stroke="#33508d" stroke-width="1.2"/>
<rect x="388.68" y="118.64" width="4.6" height="4.6" fill="#fff" stroke="#33508d" stroke-width="1.2"/>
<rect x="397.15" y="114.32" width="4.6" height="4.6" fill="#fff" stroke="#33508d" stroke-width="1.2"/>
<rect x="405.62" y="110.72" width="4.6" height="4.6" fill="#fff" stroke="#33508d" stroke-width="1.2"/>
<rect x="414.1" y="100.64" width="4.6" height="4.6" fill="#fff" stroke="#33508d" stroke-width="1.2"/>
<rect x="422.57" y="99.2" width="4.6" height="4.6" fill="#fff" stroke="#33508d" stroke-width="1.2"/>
<rect x="431.05" y="104.24" width="4.6" height="4.6" fill="#fff" stroke="#33508d" stroke-width="1.2"/>
<rect x="439.53" y="106.4" width="4.6" height="4.6" fill="#fff" stroke="#33508d" stroke-width="1.2"/>
<rect x="448" y="92.72" width="4.6" height="4.6" fill="#fff" stroke="#33508d" stroke-width="1.2"/>
<rect x="456.48" y="84.08" width="4.6" height="4.6" fill="#fff" stroke="#33508d" stroke-width="1.2"/>
<rect x="464.95" y="83.36" width="4.6" height="4.6" fill="#fff" stroke="#33508d" stroke-width="1.2"/>
<rect x="473.43" y="92.72" width="4.6" height="4.6" fill="#fff" stroke="#33508d" stroke-width="1.2"/>
<rect x="481.9" y="72.56" width="4.6" height="4.6" fill="#fff" stroke="#33508d" stroke-width="1.2"/>
<rect x="346.2" y="191.26" width="4.8" height="4.8" fill="#33508d"/>
<rect x="354.68" y="173.26" width="4.8" height="4.8" fill="#33508d"/>
<rect x="363.15" y="160.3" width="4.8" height="4.8" fill="#33508d"/>
<rect x="371.63" y="137.98" width="4.8" height="4.8" fill="#33508d"/>
<rect x="380.1" y="128.62" width="4.8" height="4.8" fill="#33508d"/>
<rect x="388.58" y="119.26" width="4.8" height="4.8" fill="#33508d"/>
<rect x="397.05" y="114.94" width="4.8" height="4.8" fill="#33508d"/>
<rect x="405.53" y="111.34" width="4.8" height="4.8" fill="#33508d"/>
<rect x="414" y="108.46" width="4.8" height="4.8" fill="#33508d"/>
<rect x="422.48" y="100.54" width="4.8" height="4.8" fill="#33508d"/>
<rect x="430.95" y="96.22" width="4.8" height="4.8" fill="#33508d"/>
<rect x="439.43" y="97.66" width="4.8" height="4.8" fill="#33508d"/>
<rect x="447.9" y="92.62" width="4.8" height="4.8" fill="#33508d"/>
<rect x="456.38" y="96.94" width="4.8" height="4.8" fill="#33508d"/>
<rect x="464.85" y="86.14" width="4.8" height="4.8" fill="#33508d"/>
<rect x="473.33" y="86.86" width="4.8" height="4.8" fill="#33508d"/>
<rect x="481.8" y="72.46" width="4.8" height="4.8" fill="#33508d"/>
<line x1="440.8" y1="157.3" x2="455.9" y2="157.3" stroke="#2c4478" stroke-width="1.3"/>
<rect x="446.1" y="155" width="4.6" height="4.6" fill="#2c4478"/>
<text x="459.4" y="160.4" font-size="9.3" textLength="36.4" lengthAdjust="spacingAndGlyphs">+/+ male</text>
<line x1="440.8" y1="170.5" x2="455.9" y2="170.5" stroke="#8e1f3b" stroke-width="1.3"/>
<circle cx="448.3" cy="170.5" r="2.4" fill="#8e1a3a"/>
<text x="459.4" y="173.6" font-size="9.3" textLength="43.6" lengthAdjust="spacingAndGlyphs">+/+ female</text>
<line x1="440.8" y1="183.7" x2="455.9" y2="183.7" stroke="#2c4478" stroke-width="1.3" stroke-dasharray="1.6 1.6"/>
<rect x="445.8" y="181.2" width="5" height="5" fill="#fff" stroke="#2c4478" stroke-width="1.2"/>
<text x="459.4" y="186.8" font-size="9.3" textLength="30.3" lengthAdjust="spacingAndGlyphs">-/- male</text>
<line x1="440.8" y1="196.9" x2="455.9" y2="196.9" stroke="#8e1f3b" stroke-width="1.3" stroke-dasharray="1.6 1.6"/>
<circle cx="448.3" cy="196.9" r="2.5" fill="#fff" stroke="#7a1a35" stroke-width="1.2"/>
<text x="459.4" y="200" font-size="9.3" textLength="38.1" lengthAdjust="spacingAndGlyphs">-/- female</text>
<text x="9.6" y="276.3" font-size="13.6" font-weight="bold" textLength="9" lengthAdjust="spacingAndGlyphs" fill="#000">C</text>
<text x="24" y="287.8" font-size="9.2" font-weight="bold" fill="#000">i</text>
<text x="187.6" y="287.8" font-size="9.2" font-weight="bold" textLength="5.4" lengthAdjust="spacingAndGlyphs" fill="#000">ii</text>
<text x="353.6" y="288" font-size="9.2" font-weight="bold" textLength="8.4" lengthAdjust="spacingAndGlyphs" fill="#000">iii</text>
<line x1="75.7" y1="299.3" x2="75.7" y2="398.2" stroke="#000" stroke-width="1.6"/>
<line x1="74.9" y1="397.4" x2="175.8" y2="397.4" stroke="#000" stroke-width="1.6"/>
<line x1="72.4" y1="303.2" x2="75.7" y2="303.2" stroke="#000" stroke-width="1.3"/>
<text x="68.2" y="306.1" font-size="9.8" text-anchor="end" textLength="10.19" lengthAdjust="spacingAndGlyphs">15</text>
<line x1="72.4" y1="334.6" x2="75.7" y2="334.6" stroke="#000" stroke-width="1.3"/>
<text x="68.2" y="337.5" font-size="9.8" text-anchor="end" textLength="10.19" lengthAdjust="spacingAndGlyphs">10</text>
<line x1="72.4" y1="366" x2="75.7" y2="366" stroke="#000" stroke-width="1.3"/>
<text x="68.2" y="368.9" font-size="9.8" text-anchor="end" textLength="5.1" lengthAdjust="spacingAndGlyphs">5</text>
<line x1="72.4" y1="397.4" x2="75.7" y2="397.4" stroke="#000" stroke-width="1.3"/>
<text x="68.2" y="400.3" font-size="9.8" text-anchor="end" textLength="5.1" lengthAdjust="spacingAndGlyphs">0</text>
<line x1="100.7" y1="397.4" x2="100.7" y2="400.6" stroke="#000" stroke-width="1.3"/>
<line x1="150.4" y1="397.4" x2="150.4" y2="400.6" stroke="#000" stroke-width="1.3"/>
<text x="37.4" y="348.3" font-size="9.6" text-anchor="middle" transform="rotate(-90 37.4 348.3)" textLength="89.5" lengthAdjust="spacingAndGlyphs">White blood cell count</text>
<text x="50.9" y="348.3" font-size="9.6" text-anchor="middle" transform="rotate(-90 50.9 348.3)" textLength="34.9" lengthAdjust="spacingAndGlyphs">(10<tspan font-size="7" dy="-3.4">3</tspan><tspan dy="3.4">/&#181;L)</tspan></text>
<line x1="100.7" y1="319" x2="150.8" y2="319" stroke="#222" stroke-width="1.3"/>
<text x="120.8" y="316.4" font-size="9.6" textLength="9.1" lengthAdjust="spacingAndGlyphs">ns</text>
<text x="93.3" y="415.9" font-size="9.2" textLength="14.4" lengthAdjust="spacingAndGlyphs">WT</text>
<text x="130.9" y="416.3" font-size="9.6" font-style="italic" textLength="32.4" lengthAdjust="spacingAndGlyphs">IL-18BP</text>
<text x="164.4" y="412.2" font-size="6.2" font-style="italic" textLength="6.9" lengthAdjust="spacingAndGlyphs">-/-</text>
<circle cx="90.1" cy="334.4" r="2.6" fill="#6cac4c" stroke="#55913c" stroke-width="0.6"/>
<circle cx="93.3" cy="331.3" r="2.6" fill="#6cac4c" stroke="#55913c" stroke-width="0.6"/>
<circle cx="97.1" cy="337.6" r="2.6" fill="#6cac4c" stroke="#55913c" stroke-width="0.6"/>
<circle cx="100.7" cy="332.9" r="2.6" fill="#6cac4c" stroke="#55913c" stroke-width="0.6"/>
<circle cx="103.8" cy="340.3" r="2.6" fill="#6cac4c" stroke="#55913c" stroke-width="0.6"/>
<circle cx="107.4" cy="331.9" r="2.6" fill="#6cac4c" stroke="#55913c" stroke-width="0.6"/>
<circle cx="110.8" cy="336.5" r="2.6" fill="#6cac4c" stroke="#55913c" stroke-width="0.6"/>
<circle cx="96.9" cy="352.6" r="2.6" fill="#6cac4c" stroke="#55913c" stroke-width="0.6"/>
<circle cx="103.8" cy="350.9" r="2.6" fill="#6cac4c" stroke="#55913c" stroke-width="0.6"/>
<circle cx="100.7" cy="363.6" r="2.6" fill="#6cac4c" stroke="#55913c" stroke-width="0.6"/>
<circle cx="100.7" cy="379.5" r="2.6" fill="#6cac4c" stroke="#55913c" stroke-width="0.6"/>
<circle cx="143.6" cy="331.3" r="2.15" fill="#fff" stroke="#42245f" stroke-width="1.35"/>
<circle cx="150.4" cy="332.3" r="2.15" fill="#fff" stroke="#42245f" stroke-width="1.35"/>
<circle cx="157.4" cy="329.3" r="2.15" fill="#fff" stroke="#42245f" stroke-width="1.35"/>
<circle cx="136.6" cy="340.8" r="2.15" fill="#fff" stroke="#42245f" stroke-width="1.35"/>
<circle cx="143.4" cy="342" r="2.15" fill="#fff" stroke="#42245f" stroke-width="1.35"/>
<circle cx="147.2" cy="345.6" r="2.15" fill="#fff" stroke="#42245f" stroke-width="1.35"/>
<circle cx="154" cy="341.2" r="2.15" fill="#fff" stroke="#42245f" stroke-width="1.35"/>
<circle cx="161" cy="339.1" r="2.15" fill="#fff" stroke="#42245f" stroke-width="1.35"/>
<circle cx="154" cy="353.5" r="2.15" fill="#fff" stroke="#42245f" stroke-width="1.35"/>
<circle cx="157.4" cy="350.9" r="2.15" fill="#fff" stroke="#42245f" stroke-width="1.35"/>
<circle cx="147.2" cy="360.4" r="2.15" fill="#fff" stroke="#42245f" stroke-width="1.35"/>
<line x1="241" y1="299.2" x2="241" y2="398.4" stroke="#000" stroke-width="1.6"/>
<line x1="240.2" y1="397.6" x2="341" y2="397.6" stroke="#000" stroke-width="1.6"/>
<line x1="237.7" y1="303.2" x2="241" y2="303.2" stroke="#000" stroke-width="1.3"/>
<text x="233.2" y="306.1" font-size="9.8" text-anchor="end" textLength="10.19" lengthAdjust="spacingAndGlyphs">15</text>
<line x1="237.7" y1="334.7" x2="241" y2="334.7" stroke="#000" stroke-width="1.3"/>
<text x="233.2" y="337.6" font-size="9.8" text-anchor="end" textLength="10.19" lengthAdjust="spacingAndGlyphs">10</text>
<line x1="237.7" y1="366.2" x2="241" y2="366.2" stroke="#000" stroke-width="1.3"/>
<text x="233.2" y="369.1" font-size="9.8" text-anchor="end" textLength="5.1" lengthAdjust="spacingAndGlyphs">5</text>
<line x1="237.7" y1="397.6" x2="241" y2="397.6" stroke="#000" stroke-width="1.3"/>
<text x="233.2" y="400.5" font-size="9.8" text-anchor="end" textLength="5.1" lengthAdjust="spacingAndGlyphs">0</text>
<line x1="265.7" y1="397.6" x2="265.7" y2="400.8" stroke="#000" stroke-width="1.3"/>
<line x1="315.4" y1="397.6" x2="315.4" y2="400.8" stroke="#000" stroke-width="1.3"/>
<text x="203" y="348.35" font-size="9.6" text-anchor="middle" transform="rotate(-90 203 348.35)" textLength="80" lengthAdjust="spacingAndGlyphs">Red blood cell count</text>
<text x="216.4" y="350.5" font-size="9.6" text-anchor="middle" transform="rotate(-90 216.4 350.5)" textLength="40" lengthAdjust="spacingAndGlyphs">(10<tspan font-size="7" dy="-3.4">3</tspan><tspan dy="3.4">/mL)</tspan></text>
<line x1="266.3" y1="313.3" x2="316" y2="313.3" stroke="#222" stroke-width="1.3"/>
<text x="286.8" y="311.2" font-size="9.6" textLength="8.5" lengthAdjust="spacingAndGlyphs">ns</text>
<text x="258.7" y="415.9" font-size="9.2" textLength="14" lengthAdjust="spacingAndGlyphs">WT</text>
<text x="296.2" y="416.3" font-size="9.6" font-style="italic" textLength="32.4" lengthAdjust="spacingAndGlyphs">IL-18BP</text>
<text x="329.7" y="412.2" font-size="6.2" font-style="italic" textLength="6.9" lengthAdjust="spacingAndGlyphs">-/-</text>
<circle cx="251.5" cy="331.5" r="2.6" fill="#6cac4c" stroke="#55913c" stroke-width="0.6"/>
<circle cx="255.1" cy="332.3" r="2.6" fill="#6cac4c" stroke="#55913c" stroke-width="0.6"/>
<circle cx="258.7" cy="333.4" r="2.6" fill="#6cac4c" stroke="#55913c" stroke-width="0.6"/>
<circle cx="262.1" cy="334.4" r="2.6" fill="#6cac4c" stroke="#55913c" stroke-width="0.6"/>
<circle cx="265.7" cy="335.1" r="2.6" fill="#6cac4c" stroke="#55913c" stroke-width="0.6"/>
<circle cx="269.3" cy="334.4" r="2.6" fill="#6cac4c" stroke="#55913c" stroke-width="0.6"/>
<circle cx="272.7" cy="333.4" r="2.6" fill="#6cac4c" stroke="#55913c" stroke-width="0.6"/>
<circle cx="276.3" cy="331.7" r="2.6" fill="#6cac4c" stroke="#55913c" stroke-width="0.6"/>
<circle cx="279.4" cy="328.5" r="2.6" fill="#6cac4c" stroke="#55913c" stroke-width="0.6"/>
<circle cx="265.7" cy="326.4" r="2.6" fill="#6cac4c" stroke="#55913c" stroke-width="0.6"/>
<circle cx="265.7" cy="344.6" r="2.6" fill="#6cac4c" stroke="#55913c" stroke-width="0.6"/>
<circle cx="315.8" cy="321.7" r="2.15" fill="#fff" stroke="#42245f" stroke-width="1.35"/>
<circle cx="305.9" cy="328.1" r="2.15" fill="#fff" stroke="#42245f" stroke-width="1.35"/>
<circle cx="312.2" cy="330.6" r="2.15" fill="#fff" stroke="#42245f" stroke-width="1.35"/>
<circle cx="319.2" cy="331.7" r="2.15" fill="#fff" stroke="#42245f" stroke-width="1.35"/>
<circle cx="326" cy="329.6" r="2.15" fill="#fff" stroke="#42245f" stroke-width="1.35"/>
<circle cx="301.6" cy="334.8" r="2.15" fill="#fff" stroke="#42245f" stroke-width="1.35"/>
<circle cx="307.6" cy="335.1" r="2.15" fill="#fff" stroke="#42245f" stroke-width="1.35"/>
<circle cx="318.6" cy="335.7" r="2.15" fill="#fff" stroke="#42245f" stroke-width="1.35"/>
<circle cx="324.5" cy="335.1" r="2.15" fill="#fff" stroke="#42245f" stroke-width="1.35"/>
<circle cx="330.2" cy="332.9" r="2.15" fill="#fff" stroke="#42245f" stroke-width="1.35"/>
<circle cx="312.9" cy="339.3" r="2.15" fill="#fff" stroke="#42245f" stroke-width="1.35"/>
<line x1="411.4" y1="299.2" x2="411.4" y2="398" stroke="#000" stroke-width="1.6"/>
<line x1="410.6" y1="397.2" x2="511.8" y2="397.2" stroke="#000" stroke-width="1.6"/>
<line x1="408.1" y1="303.1" x2="411.4" y2="303.1" stroke="#000" stroke-width="1.3"/>
<text x="403.9" y="306" font-size="9.8" text-anchor="end" textLength="20.38" lengthAdjust="spacingAndGlyphs">1500</text>
<line x1="408.1" y1="334.4" x2="411.4" y2="334.4" stroke="#000" stroke-width="1.3"/>
<text x="403.9" y="337.3" font-size="9.8" text-anchor="end" textLength="20.38" lengthAdjust="spacingAndGlyphs">1000</text>
<line x1="408.1" y1="365.7" x2="411.4" y2="365.7" stroke="#000" stroke-width="1.3"/>
<text x="403.9" y="368.6" font-size="9.8" text-anchor="end" textLength="15.29" lengthAdjust="spacingAndGlyphs">500</text>
<line x1="408.1" y1="397" x2="411.4" y2="397" stroke="#000" stroke-width="1.3"/>
<text x="403.9" y="399.9" font-size="9.8" text-anchor="end" textLength="5.1" lengthAdjust="spacingAndGlyphs">0</text>
<line x1="436.3" y1="397.2" x2="436.3" y2="400.4" stroke="#000" stroke-width="1.3"/>
<line x1="486.4" y1="397.2" x2="486.4" y2="400.4" stroke="#000" stroke-width="1.3"/>
<text x="376.6" y="347.65" font-size="9.6" text-anchor="middle" transform="rotate(-90 376.6 347.65)" textLength="91" lengthAdjust="spacingAndGlyphs">Platelet count (10<tspan font-size="7" dy="-3.4">3</tspan><tspan dy="3.4">/&#181;L)</tspan></text>
<line x1="438.4" y1="311.8" x2="489.6" y2="311.8" stroke="#222" stroke-width="1.3"/>
<text x="459" y="310.1" font-size="9.6" textLength="9" lengthAdjust="spacingAndGlyphs">ns</text>
<text x="429.3" y="416.5" font-size="9.2" textLength="13.4" lengthAdjust="spacingAndGlyphs">WT</text>
<text x="467.3" y="416.4" font-size="9.6" font-style="italic" textLength="32.4" lengthAdjust="spacingAndGlyphs">IL-18BP</text>
<text x="500.9" y="412.3" font-size="6.2" font-style="italic" textLength="6.9" lengthAdjust="spacingAndGlyphs">-/-</text>
<circle cx="425.7" cy="325.5" r="2.6" fill="#6cac4c" stroke="#55913c" stroke-width="0.6"/>
<circle cx="432.5" cy="321.3" r="2.6" fill="#6cac4c" stroke="#55913c" stroke-width="0.6"/>
<circle cx="432.5" cy="329.6" r="2.6" fill="#6cac4c" stroke="#55913c" stroke-width="0.6"/>
<circle cx="439.5" cy="326.6" r="2.6" fill="#6cac4c" stroke="#55913c" stroke-width="0.6"/>
<circle cx="443.1" cy="322.2" r="2.6" fill="#6cac4c" stroke="#55913c" stroke-width="0.6"/>
<circle cx="446.7" cy="323.8" r="2.6" fill="#6cac4c" stroke="#55913c" stroke-width="0.6"/>
<circle cx="429.3" cy="336.5" r="2.6" fill="#6cac4c" stroke="#55913c" stroke-width="0.6"/>
<circle cx="436.1" cy="338.2" r="2.6" fill="#6cac4c" stroke="#55913c" stroke-width="0.6"/>
<circle cx="443.1" cy="332.7" r="2.6" fill="#6cac4c" stroke="#55913c" stroke-width="0.6"/>
<circle cx="439.5" cy="386.9" r="2.6" fill="#6cac4c" stroke="#55913c" stroke-width="0.6"/>
<circle cx="432.5" cy="393" r="2.6" fill="#6cac4c" stroke="#55913c" stroke-width="0.6"/>
<circle cx="473.1" cy="328.5" r="2.15" fill="#fff" stroke="#42245f" stroke-width="1.35"/>
<circle cx="479.5" cy="332.3" r="2.15" fill="#fff" stroke="#42245f" stroke-width="1.35"/>
<circle cx="486.4" cy="327.7" r="2.15" fill="#fff" stroke="#42245f" stroke-width="1.35"/>
<circle cx="486.4" cy="335.5" r="2.15" fill="#fff" stroke="#42245f" stroke-width="1.35"/>
<circle cx="492.8" cy="335.5" r="2.15" fill="#fff" stroke="#42245f" stroke-width="1.35"/>
<circle cx="499.6" cy="329.6" r="2.15" fill="#fff" stroke="#42245f" stroke-width="1.35"/>
<circle cx="483.3" cy="347.1" r="2.15" fill="#fff" stroke="#42245f" stroke-width="1.35"/>
<circle cx="489.6" cy="353" r="2.15" fill="#fff" stroke="#42245f" stroke-width="1.35"/>
<circle cx="486.4" cy="367.2" r="2.15" fill="#fff" stroke="#42245f" stroke-width="1.35"/>
<circle cx="486.4" cy="379.5" r="2.15" fill="#fff" stroke="#42245f" stroke-width="1.35"/>
<circle cx="486.4" cy="388" r="2.15" fill="#fff" stroke="#42245f" stroke-width="1.35"/>
<text x="8.9" y="445" font-size="13.8" font-weight="bold" textLength="9.8" lengthAdjust="spacingAndGlyphs" fill="#000">D</text>
<text x="26.8" y="453.8" font-size="9.2" font-weight="bold" fill="#000">i</text>
<line x1="67.8" y1="469.8" x2="67.8" y2="571.2" stroke="#000" stroke-width="1.6"/>
<line x1="67" y1="570.4" x2="218.8" y2="570.4" stroke="#000" stroke-width="1.6"/>
<line x1="64.5" y1="484.5" x2="67.8" y2="484.5" stroke="#000" stroke-width="1.3"/>
<text x="60.5" y="487.8" font-size="10.3" text-anchor="end" textLength="10.71" lengthAdjust="spacingAndGlyphs">60</text>
<line x1="64.5" y1="513" x2="67.8" y2="513" stroke="#000" stroke-width="1.3"/>
<text x="60.5" y="516.3" font-size="10.3" text-anchor="end" textLength="10.71" lengthAdjust="spacingAndGlyphs">40</text>
<line x1="64.5" y1="541.6" x2="67.8" y2="541.6" stroke="#000" stroke-width="1.3"/>
<text x="60.5" y="544.9" font-size="10.3" text-anchor="end" textLength="10.71" lengthAdjust="spacingAndGlyphs">20</text>
<line x1="64.5" y1="570.1" x2="67.8" y2="570.1" stroke="#000" stroke-width="1.3"/>
<text x="60.5" y="573.4" font-size="10.3" text-anchor="end" textLength="5.36" lengthAdjust="spacingAndGlyphs">0</text>
<line x1="102.3" y1="570.4" x2="102.3" y2="573.6" stroke="#000" stroke-width="1.3"/>
<line x1="182.8" y1="570.4" x2="182.8" y2="573.6" stroke="#000" stroke-width="1.3"/>
<text x="43.5" y="520.3" font-size="11" text-anchor="middle" transform="rotate(-90 43.5 520.3)" textLength="93" lengthAdjust="spacingAndGlyphs">Cell counts ( &#215; 10<tspan font-size="8.2" dy="-3.8">6</tspan><tspan dy="3.8"> cells)</tspan></text>
<line x1="88.5" y1="473.1" x2="118.4" y2="473.1" stroke="#222" stroke-width="1.3"/>
<text x="99" y="470.2" font-size="9.6" textLength="8.6" lengthAdjust="spacingAndGlyphs">ns</text>
<line x1="167.6" y1="473.1" x2="197.6" y2="473.1" stroke="#222" stroke-width="1.3"/>
<text x="178" y="470.2" font-size="9.6" textLength="8.6" lengthAdjust="spacingAndGlyphs">ns</text>
<text x="81.4" y="589.4" font-size="10.3" textLength="42.4" lengthAdjust="spacingAndGlyphs">Total cells</text>
<text x="168.7" y="589.4" font-size="10.2" textLength="24" lengthAdjust="spacingAndGlyphs">CD45</text>
<text x="193.2" y="587.3" font-size="7" textLength="3.8" lengthAdjust="spacingAndGlyphs">+</text>
<circle cx="80" cy="483.9" r="2.6" fill="#6cac4c" stroke="#55913c" stroke-width="0.6"/>
<circle cx="85.1" cy="487.7" r="2.6" fill="#6cac4c" stroke="#55913c" stroke-width="0.6"/>
<circle cx="90.1" cy="490.8" r="2.6" fill="#6cac4c" stroke="#55913c" stroke-width="0.6"/>
<circle cx="95.2" cy="487" r="2.6" fill="#6cac4c" stroke="#55913c" stroke-width="0.6"/>
<circle cx="88" cy="501.6" r="2.6" fill="#6cac4c" stroke="#55913c" stroke-width="0.6"/>
<circle cx="160.5" cy="484.5" r="2.6" fill="#6cac4c" stroke="#55913c" stroke-width="0.6"/>
<circle cx="165.3" cy="488.9" r="2.6" fill="#6cac4c" stroke="#55913c" stroke-width="0.6"/>
<circle cx="170.1" cy="490.8" r="2.6" fill="#6cac4c" stroke="#55913c" stroke-width="0.6"/>
<circle cx="175.2" cy="487.7" r="2.6" fill="#6cac4c" stroke="#55913c" stroke-width="0.6"/>
<circle cx="168" cy="503.9" r="2.6" fill="#6cac4c" stroke="#55913c" stroke-width="0.6"/>
<circle cx="111.4" cy="487" r="2.15" fill="#fff" stroke="#42245f" stroke-width="1.35"/>
<circle cx="118" cy="490.2" r="2.15" fill="#fff" stroke="#42245f" stroke-width="1.35"/>
<circle cx="124.7" cy="487" r="2.15" fill="#fff" stroke="#42245f" stroke-width="1.35"/>
<circle cx="114.6" cy="507.7" r="2.15" fill="#fff" stroke="#42245f" stroke-width="1.35"/>
<circle cx="121.3" cy="506.8" r="2.15" fill="#fff" stroke="#42245f" stroke-width="1.35"/>
<circle cx="194.6" cy="487.3" r="2.15" fill="#fff" stroke="#42245f" stroke-width="1.35"/>
<circle cx="201.3" cy="487.3" r="2.15" fill="#fff" stroke="#42245f" stroke-width="1.35"/>
<circle cx="198" cy="497.8" r="2.15" fill="#fff" stroke="#42245f" stroke-width="1.35"/>
<circle cx="194.6" cy="507.9" r="2.15" fill="#fff" stroke="#42245f" stroke-width="1.35"/>
<circle cx="201.3" cy="506.9" r="2.15" fill="#fff" stroke="#42245f" stroke-width="1.35"/>
<circle cx="291.3" cy="511.8" r="2.6" fill="#6cac4c" stroke="#55913c" stroke-width="0.6"/>
<text x="297.7" y="514.5" font-size="9.2" textLength="12.5" lengthAdjust="spacingAndGlyphs">WT</text>
<circle cx="291.2" cy="527.6" r="2.15" fill="#fff" stroke="#42245f" stroke-width="1.35"/>
<text x="298" y="531" font-size="9.6" font-style="italic" textLength="30.2" lengthAdjust="spacingAndGlyphs">IL-18BP</text>
<text x="329.7" y="526.9" font-size="6.2" font-style="italic" textLength="6.4" lengthAdjust="spacingAndGlyphs">-/-</text>
<text x="24.4" y="608" font-size="9.2" font-weight="bold" textLength="5.2" lengthAdjust="spacingAndGlyphs" fill="#000">ii</text>
<line x1="67.8" y1="625" x2="67.8" y2="725.6" stroke="#000" stroke-width="1.6"/>
<line x1="67" y1="724.8" x2="218.5" y2="724.8" stroke="#000" stroke-width="1.6"/>
<line x1="64.5" y1="635.3" x2="67.8" y2="635.3" stroke="#000" stroke-width="1.3"/>
<text x="60.4" y="638.6" font-size="10.3" text-anchor="end" textLength="10.71" lengthAdjust="spacingAndGlyphs">40</text>
<line x1="64.5" y1="657.6" x2="67.8" y2="657.6" stroke="#000" stroke-width="1.3"/>
<text x="60.4" y="660.9" font-size="10.3" text-anchor="end" textLength="10.71" lengthAdjust="spacingAndGlyphs">30</text>
<line x1="64.5" y1="680" x2="67.8" y2="680" stroke="#000" stroke-width="1.3"/>
<text x="60.4" y="683.3" font-size="10.3" text-anchor="end" textLength="10.71" lengthAdjust="spacingAndGlyphs">20</text>
<line x1="64.5" y1="702.4" x2="67.8" y2="702.4" stroke="#000" stroke-width="1.3"/>
<text x="60.4" y="705.7" font-size="10.3" text-anchor="end" textLength="10.71" lengthAdjust="spacingAndGlyphs">10</text>
<line x1="64.5" y1="724.6" x2="67.8" y2="724.6" stroke="#000" stroke-width="1.3"/>
<text x="60.4" y="727.9" font-size="10.3" text-anchor="end" textLength="5.36" lengthAdjust="spacingAndGlyphs">0</text>
<line x1="84.5" y1="724.8" x2="84.5" y2="728" stroke="#000" stroke-width="1.3"/>
<line x1="123.2" y1="724.8" x2="123.2" y2="728" stroke="#000" stroke-width="1.3"/>
<line x1="161.8" y1="724.8" x2="161.8" y2="728" stroke="#000" stroke-width="1.3"/>
<line x1="200.9" y1="724.8" x2="200.9" y2="728" stroke="#000" stroke-width="1.3"/>
<text x="43" y="674.5" font-size="11" text-anchor="middle" transform="rotate(-90 43 674.5)" textLength="94.6" lengthAdjust="spacingAndGlyphs">Cell counts ( &#215; 10<tspan font-size="8.2" dy="-3.8">6</tspan><tspan dy="3.8"> cells)</tspan></text>
<text x="80.2" y="660.6" font-size="9.6" textLength="8.5" lengthAdjust="spacingAndGlyphs">ns</text>
<text x="119" y="679.9" font-size="9.6" textLength="9" lengthAdjust="spacingAndGlyphs">ns</text>
<text x="158" y="691.4" font-size="9.6" textLength="8" lengthAdjust="spacingAndGlyphs">ns</text>
<text x="196.7" y="622.2" font-size="9.6" textLength="8.5" lengthAdjust="spacingAndGlyphs">ns</text>
<text x="71.6" y="743.8" font-size="10.2" textLength="25.7" lengthAdjust="spacingAndGlyphs">T cells</text>
<text x="111.9" y="743.8" font-size="10.2" textLength="17.9" lengthAdjust="spacingAndGlyphs">CD4</text>
<text x="130.4" y="741.2" font-size="7" textLength="3.6" lengthAdjust="spacingAndGlyphs">+</text>
<text x="150.5" y="743.8" font-size="10.2" textLength="18" lengthAdjust="spacingAndGlyphs">CD8</text>
<text x="169.3" y="741.2" font-size="7" textLength="3.6" lengthAdjust="spacingAndGlyphs">+</text>
<text x="188" y="743.8" font-size="10.2" textLength="26.8" lengthAdjust="spacingAndGlyphs">B cells</text>
<circle cx="75.6" cy="678.8" r="2.6" fill="#6cac4c" stroke="#55913c" stroke-width="0.6"/>
<circle cx="78.1" cy="677.5" r="2.6" fill="#6cac4c" stroke="#55913c" stroke-width="0.6"/>
<circle cx="76.6" cy="682.4" r="2.6" fill="#6cac4c" stroke="#55913c" stroke-width="0.6"/>
<circle cx="79.8" cy="683.5" r="2.6" fill="#6cac4c" stroke="#55913c" stroke-width="0.6"/>
<circle cx="80.2" cy="686.6" r="2.6" fill="#6cac4c" stroke="#55913c" stroke-width="0.6"/>
<circle cx="74.5" cy="690.9" r="2.6" fill="#6cac4c" stroke="#55913c" stroke-width="0.6"/>
<circle cx="111.2" cy="701.2" r="2.6" fill="#6cac4c" stroke="#55913c" stroke-width="0.6"/>
<circle cx="113.7" cy="699" r="2.6" fill="#6cac4c" stroke="#55913c" stroke-width="0.6"/>
<circle cx="116.7" cy="698.3" r="2.6" fill="#6cac4c" stroke="#55913c" stroke-width="0.6"/>
<circle cx="119.5" cy="699.9" r="2.6" fill="#6cac4c" stroke="#55913c" stroke-width="0.6"/>
<circle cx="117.4" cy="702.9" r="2.6" fill="#6cac4c" stroke="#55913c" stroke-width="0.6"/>
<circle cx="114.9" cy="705.5" r="2.6" fill="#6cac4c" stroke="#55913c" stroke-width="0.6"/>
<circle cx="112.7" cy="702.6" r="2.6" fill="#6cac4c" stroke="#55913c" stroke-width="0.6"/>
<circle cx="152.7" cy="704.7" r="2.6" fill="#6cac4c" stroke="#55913c" stroke-width="0.6"/>
<circle cx="155.2" cy="705.1" r="2.6" fill="#6cac4c" stroke="#55913c" stroke-width="0.6"/>
<circle cx="154.4" cy="709.6" r="2.6" fill="#6cac4c" stroke="#55913c" stroke-width="0.6"/>
<circle cx="153.4" cy="707.5" r="2.6" fill="#6cac4c" stroke="#55913c" stroke-width="0.6"/>
<circle cx="190.8" cy="654.6" r="2.6" fill="#6cac4c" stroke="#55913c" stroke-width="0.6"/>
<circle cx="196.1" cy="652.3" r="2.6" fill="#6cac4c" stroke="#55913c" stroke-width="0.6"/>
<circle cx="190.8" cy="662" r="2.6" fill="#6cac4c" stroke="#55913c" stroke-width="0.6"/>
<circle cx="196.1" cy="664.1" r="2.6" fill="#6cac4c" stroke="#55913c" stroke-width="0.6"/>
<circle cx="193.5" cy="673" r="2.6" fill="#6cac4c" stroke="#55913c" stroke-width="0.6"/>
<circle cx="89.3" cy="676.7" r="2.15" fill="#fff" stroke="#42245f" stroke-width="1.35"/>
<circle cx="94.6" cy="674" r="2.15" fill="#fff" stroke="#42245f" stroke-width="1.35"/>
<circle cx="89.3" cy="689.4" r="2.15" fill="#fff" stroke="#42245f" stroke-width="1.35"/>
<circle cx="94.6" cy="693" r="2.15" fill="#fff" stroke="#42245f" stroke-width="1.35"/>
<circle cx="92.1" cy="706.7" r="2.15" fill="#fff" stroke="#42245f" stroke-width="1.35"/>
<circle cx="128" cy="697.8" r="2.15" fill="#fff" stroke="#42245f" stroke-width="1.35"/>
<circle cx="133.1" cy="694.5" r="2.15" fill="#fff" stroke="#42245f" stroke-width="1.35"/>
<circle cx="128" cy="705" r="2.15" fill="#fff" stroke="#42245f" stroke-width="1.35"/>
<circle cx="133.1" cy="706.3" r="2.15" fill="#fff" stroke="#42245f" stroke-width="1.35"/>
<circle cx="130.6" cy="715.6" r="2.15" fill="#fff" stroke="#42245f" stroke-width="1.35"/>
<circle cx="167.3" cy="704.1" r="2.15" fill="#fff" stroke="#42245f" stroke-width="1.35"/>
<circle cx="172" cy="704.1" r="2.15" fill="#fff" stroke="#42245f" stroke-width="1.35"/>
<circle cx="167.3" cy="709.8" r="2.15" fill="#fff" stroke="#42245f" stroke-width="1.35"/>
<circle cx="171.8" cy="711.2" r="2.15" fill="#fff" stroke="#42245f" stroke-width="1.35"/>
<circle cx="169.4" cy="716.5" r="2.15" fill="#fff" stroke="#42245f" stroke-width="1.35"/>
<circle cx="208.1" cy="641.9" r="2.15" fill="#fff" stroke="#42245f" stroke-width="1.35"/>
<circle cx="205.6" cy="656.5" r="2.15" fill="#fff" stroke="#42245f" stroke-width="1.35"/>
<circle cx="210.9" cy="660.7" r="2.15" fill="#fff" stroke="#42245f" stroke-width="1.35"/>
<circle cx="205.6" cy="676.2" r="2.15" fill="#fff" stroke="#42245f" stroke-width="1.35"/>
<circle cx="210.9" cy="673" r="2.15" fill="#fff" stroke="#42245f" stroke-width="1.35"/>
<text x="234.8" y="608" font-size="9.2" font-weight="bold" textLength="8.2" lengthAdjust="spacingAndGlyphs" fill="#000">iii</text>
<line x1="275.8" y1="621.3" x2="275.8" y2="725.6" stroke="#000" stroke-width="1.6"/>
<line x1="275" y1="724.8" x2="481.2" y2="724.8" stroke="#000" stroke-width="1.6"/>
<line x1="272.5" y1="624.3" x2="275.8" y2="624.3" stroke="#000" stroke-width="1.3"/>
<text x="268.3" y="627.3" font-size="9.4" text-anchor="end" textLength="4.89" lengthAdjust="spacingAndGlyphs">5</text>
<line x1="272.5" y1="644.3" x2="275.8" y2="644.3" stroke="#000" stroke-width="1.3"/>
<text x="268.3" y="647.3" font-size="9.4" text-anchor="end" textLength="4.89" lengthAdjust="spacingAndGlyphs">4</text>
<line x1="272.5" y1="664.4" x2="275.8" y2="664.4" stroke="#000" stroke-width="1.3"/>
<text x="268.3" y="667.4" font-size="9.4" text-anchor="end" textLength="4.89" lengthAdjust="spacingAndGlyphs">3</text>
<line x1="272.5" y1="684.5" x2="275.8" y2="684.5" stroke="#000" stroke-width="1.3"/>
<text x="268.3" y="687.5" font-size="9.4" text-anchor="end" textLength="4.89" lengthAdjust="spacingAndGlyphs">2</text>
<line x1="272.5" y1="704.5" x2="275.8" y2="704.5" stroke="#000" stroke-width="1.3"/>
<text x="268.3" y="707.5" font-size="9.4" text-anchor="end" textLength="4.89" lengthAdjust="spacingAndGlyphs">1</text>
<line x1="272.5" y1="724.5" x2="275.8" y2="724.5" stroke="#000" stroke-width="1.3"/>
<text x="268.3" y="727.5" font-size="9.4" text-anchor="end" textLength="4.89" lengthAdjust="spacingAndGlyphs">0</text>
<line x1="298.2" y1="724.8" x2="298.2" y2="728" stroke="#000" stroke-width="1.3"/>
<line x1="351" y1="724.8" x2="351" y2="728" stroke="#000" stroke-width="1.3"/>
<line x1="404" y1="724.8" x2="404" y2="728" stroke="#000" stroke-width="1.3"/>
<line x1="456.4" y1="724.8" x2="456.4" y2="728" stroke="#000" stroke-width="1.3"/>
<text x="257.5" y="672.5" font-size="10" text-anchor="middle" transform="rotate(-90 257.5 672.5)" textLength="95" lengthAdjust="spacingAndGlyphs">Cell counts ( &#215; 10<tspan font-size="8.2" dy="-3.8">6</tspan><tspan dy="3.8"> cells)</tspan></text>
<text x="295" y="690.7" font-size="9.6" textLength="7.8" lengthAdjust="spacingAndGlyphs">ns</text>
<text x="347.2" y="705.5" font-size="9.6" textLength="8.5" lengthAdjust="spacingAndGlyphs">ns</text>
<text x="400.1" y="640.7" font-size="9.6" textLength="8.4" lengthAdjust="spacingAndGlyphs">ns</text>
<text x="453.1" y="640.7" font-size="9.6" textLength="8.1" lengthAdjust="spacingAndGlyphs">ns</text>
<text x="289.8" y="740.3" font-size="10.2" textLength="18" lengthAdjust="spacingAndGlyphs">cDC</text>
<text x="342" y="740.3" font-size="10.2" textLength="19.2" lengthAdjust="spacingAndGlyphs">pDC</text>
<text x="391" y="740.6" font-size="10.2" textLength="26.5" lengthAdjust="spacingAndGlyphs">mono/</text>
<text x="391" y="751.2" font-size="10.2" textLength="26" lengthAdjust="spacingAndGlyphs">macro</text>
<text x="443.5" y="740.6" font-size="10.2" textLength="27.1" lengthAdjust="spacingAndGlyphs">neutro</text>
<circle cx="286" cy="716" r="2.6" fill="#6cac4c" stroke="#55913c" stroke-width="0.6"/>
<circle cx="289" cy="711.5" r="2.6" fill="#6cac4c" stroke="#55913c" stroke-width="0.6"/>
<circle cx="292.2" cy="715.2" r="2.6" fill="#6cac4c" stroke="#55913c" stroke-width="0.6"/>
<circle cx="288" cy="718.8" r="2.6" fill="#6cac4c" stroke="#55913c" stroke-width="0.6"/>
<circle cx="291.4" cy="718.3" r="2.6" fill="#6cac4c" stroke="#55913c" stroke-width="0.6"/>
<circle cx="289" cy="715" r="2.6" fill="#6cac4c" stroke="#55913c" stroke-width="0.6"/>
<circle cx="338.1" cy="720.9" r="2.6" fill="#6cac4c" stroke="#55913c" stroke-width="0.6"/>
<circle cx="341.5" cy="721.3" r="2.6" fill="#6cac4c" stroke="#55913c" stroke-width="0.6"/>
<circle cx="344.5" cy="720.9" r="2.6" fill="#6cac4c" stroke="#55913c" stroke-width="0.6"/>
<circle cx="340" cy="720" r="2.6" fill="#6cac4c" stroke="#55913c" stroke-width="0.6"/>
<circle cx="394.5" cy="659.1" r="2.6" fill="#6cac4c" stroke="#55913c" stroke-width="0.6"/>
<circle cx="394.5" cy="667.7" r="2.6" fill="#6cac4c" stroke="#55913c" stroke-width="0.6"/>
<circle cx="394.5" cy="682.5" r="2.6" fill="#6cac4c" stroke="#55913c" stroke-width="0.6"/>
<circle cx="394.5" cy="689.8" r="2.6" fill="#6cac4c" stroke="#55913c" stroke-width="0.6"/>
<circle cx="394.5" cy="697.2" r="2.6" fill="#6cac4c" stroke="#55913c" stroke-width="0.6"/>
<circle cx="447.5" cy="655.5" r="2.6" fill="#6cac4c" stroke="#55913c" stroke-width="0.6"/>
<circle cx="447.5" cy="664.7" r="2.6" fill="#6cac4c" stroke="#55913c" stroke-width="0.6"/>
<circle cx="447.5" cy="688.4" r="2.6" fill="#6cac4c" stroke="#55913c" stroke-width="0.6"/>
<circle cx="447.5" cy="701.5" r="2.6" fill="#6cac4c" stroke="#55913c" stroke-width="0.6"/>
<circle cx="447.5" cy="709.8" r="2.6" fill="#6cac4c" stroke="#55913c" stroke-width="0.6"/>
<circle cx="306" cy="715.4" r="2.15" fill="#fff" stroke="#482568" stroke-width="1.35"/>
<circle cx="307.6" cy="716.6" r="2.15" fill="#fff" stroke="#482568" stroke-width="1.35"/>
<circle cx="309.1" cy="717.5" r="2.15" fill="#fff" stroke="#482568" stroke-width="1.35"/>
<circle cx="310.7" cy="718" r="2.15" fill="#fff" stroke="#482568" stroke-width="1.35"/>
<circle cx="312.3" cy="717.5" r="2.15" fill="#fff" stroke="#482568" stroke-width="1.35"/>
<circle cx="357.8" cy="719.7" r="2.15" fill="#fff" stroke="#482568" stroke-width="1.35"/>
<circle cx="359.4" cy="721.2" r="2.15" fill="#fff" stroke="#482568" stroke-width="1.35"/>
<circle cx="361" cy="722.3" r="2.15" fill="#fff" stroke="#482568" stroke-width="1.35"/>
<circle cx="362.6" cy="722" r="2.15" fill="#fff" stroke="#482568" stroke-width="1.35"/>
<circle cx="364.1" cy="721.3" r="2.15" fill="#fff" stroke="#482568" stroke-width="1.35"/>
<circle cx="414.1" cy="676.1" r="2.15" fill="#fff" stroke="#482568" stroke-width="1.35"/>
<circle cx="411" cy="692.3" r="2.15" fill="#fff" stroke="#482568" stroke-width="1.35"/>
<circle cx="412.6" cy="693.2" r="2.15" fill="#fff" stroke="#482568" stroke-width="1.35"/>
<circle cx="414.1" cy="693.7" r="2.15" fill="#fff" stroke="#482568" stroke-width="1.35"/>
<circle cx="416.1" cy="692.9" r="2.15" fill="#fff" stroke="#482568" stroke-width="1.35"/>
<circle cx="418" cy="691.7" r="2.15" fill="#fff" stroke="#482568" stroke-width="1.35"/>
<circle cx="467" cy="687.2" r="2.15" fill="#fff" stroke="#482568" stroke-width="1.35"/>
<circle cx="464" cy="690.9" r="2.15" fill="#fff" stroke="#482568" stroke-width="1.35"/>
<circle cx="470.4" cy="695.6" r="2.15" fill="#fff" stroke="#482568" stroke-width="1.35"/>
<circle cx="470.4" cy="705.9" r="2.15" fill="#fff" stroke="#482568" stroke-width="1.35"/>
<circle cx="464" cy="712.6" r="2.15" fill="#fff" stroke="#482568" stroke-width="1.35"/>
<rect x="0" y="0" width="520" height="1.6" fill="#000"/>
<rect x="0" y="0" width="1.6" height="762" fill="#000"/>
<rect x="518" y="0" width="2" height="762" fill="#000"/>
<rect x="0" y="760" width="520" height="2" fill="#000"/>
</svg>
</body></html>
